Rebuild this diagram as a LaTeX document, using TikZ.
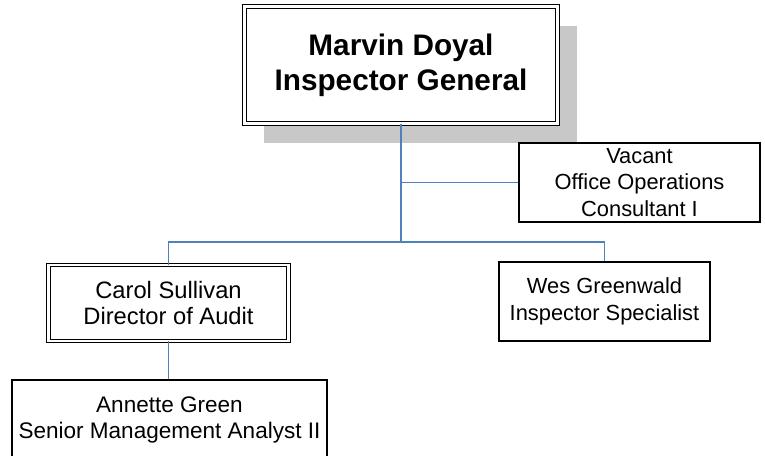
\documentclass[tikz,border=0pt]{standalone}
\usepackage{fontspec}
\setmainfont{Liberation Sans}
\usetikzlibrary{shadows}
\definecolor{linkblue}{RGB}{79,129,189}
\definecolor{shadowgray}{RGB}{200,200,200}

\begin{document}
\begin{tikzpicture}[x=0.75pt,y=-0.75pt,
  post/.style={draw=black,line width=0.8pt,fill=white,inner sep=0pt,align=center,font=\fontsize{16.4}{20}\selectfont},
  headpost/.style={post,double,double distance=1.7pt,line width=0.75pt},
  link/.style={linkblue,line width=0.8pt}]
\useasboundingbox (0,0) rectangle (765,456);
\clip (0,0) rectangle (765,456);
\node[headpost,double distance=2.2pt,minimum width=234.75pt,minimum height=87.75pt,
  font=\bfseries\fontsize{22.3}{26}\selectfont,
  drop shadow={shadow xshift=14.5pt,shadow yshift=-14.5pt,fill=shadowgray,opacity=1}] (ig) at (401,65) {Marvin Doyal\\Inspector General};
\node[post,minimum width=180.75pt,minimum height=59.25pt] (oc) at (639.5,182.5) {Vacant\\Office Operations\\Consultant I};
\node[headpost,minimum width=180pt,minimum height=56.5pt,font=\fontsize{17.8}{20}\selectfont] (da) at (168.5,303) {Carol Sullivan\\Director of Audit};
\node[post,minimum width=158.25pt,minimum height=59.25pt] (is) at (604.5,301.5) {Wes Greenwald\\Inspector Specialist};
\node[post,minimum width=236.25pt,minimum height=60pt,font=\fontsize{16.9}{19.5}\selectfont] (sma) at (169.5,420) {Annette Green\\Senior Management Analyst II};
\coordinate (bus) at (401,242);
\draw[link] (ig.south) -- (bus);
\draw[link] (ig.south |- oc.west) -- (oc.west);
\draw[link] (da.north) |- (bus) -| (is.north);
\draw[link] (da.south) -- (da.south |- sma.north);
\end{tikzpicture}
\end{document}
